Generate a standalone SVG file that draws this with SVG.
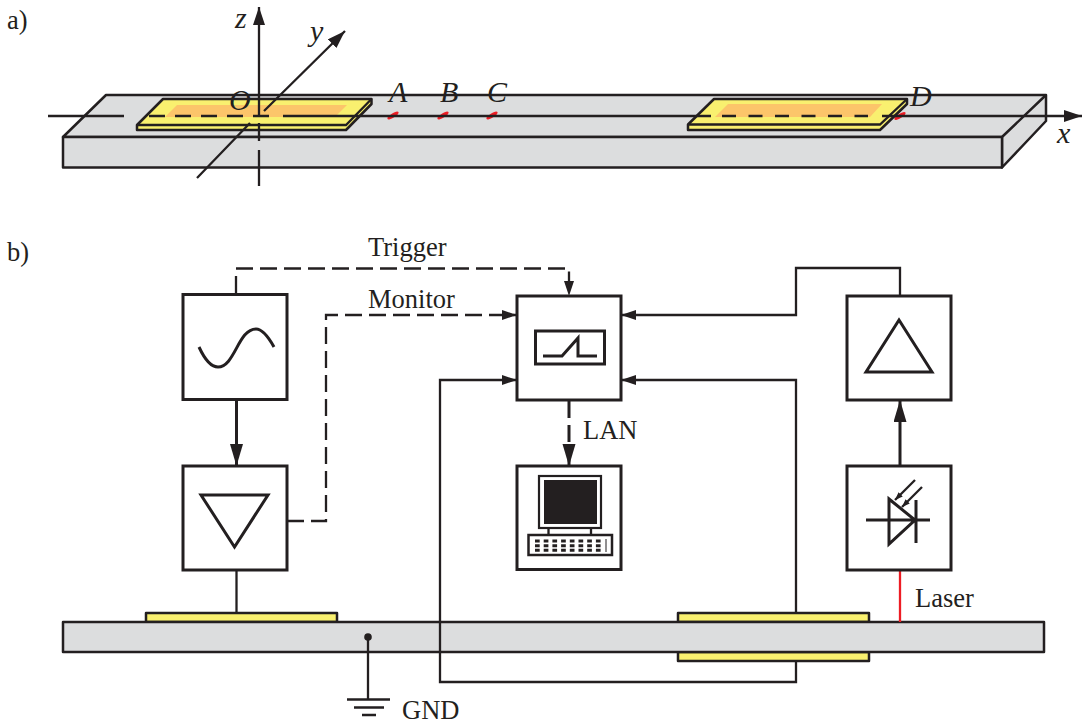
<svg xmlns="http://www.w3.org/2000/svg" width="1085" height="724" viewBox="0 0 1085 724">
<style>
.s{fill:none;stroke:#231f20;stroke-width:2.300}
.box{fill:#fff;stroke:#231f20;stroke-width:3}
.ic{fill:none;stroke:#231f20;stroke-width:3}
.bar{fill:#dcddde;stroke:#231f20;stroke-width:2.500;stroke-linejoin:round}
.el{fill:#f9f06f;stroke:#231f20;stroke-width:2.500;stroke-linejoin:round}
.or{fill:#fcc56a}
.d{stroke-dasharray:17 7}
.t{font-family:"Liberation Serif","Times New Roman",serif;font-size:26.5px;fill:#231f20}
.i{font-style:italic;font-size:30px}
.r{fill:#ed1c24}
</style>
<defs>
<marker id="ah" markerUnits="userSpaceOnUse" markerWidth="16" markerHeight="11" refX="15" refY="5" orient="auto"><path d="M0 0L15 5L0 10z" fill="#231f20"/></marker>
<marker id="al" markerUnits="userSpaceOnUse" markerWidth="23" markerHeight="14" refX="22" refY="6.5" orient="auto"><path d="M0 0L22 6.5L0 13z" fill="#231f20"/></marker>
<marker id="ax" markerUnits="userSpaceOnUse" markerWidth="19" markerHeight="13" refX="18" refY="6" orient="auto"><path d="M0 0L18 6L0 12z" fill="#231f20"/></marker>
<marker id="as" markerUnits="userSpaceOnUse" markerWidth="9" markerHeight="7" refX="8" refY="3" orient="auto"><path d="M0 0L8 3L0 6z" fill="#231f20"/></marker>
</defs>

<g id="panel-a-bar">
<path class="bar" d="M63 137L106 95H1046V121L1002 167.500V137z"/>
<path class="bar" d="M1002 137L1046 95M63 137H1002V167.500H63z"/>
</g>
<g id="panel-a-points">
<ellipse class="r" cx="393" cy="115.500" rx="6.500" ry="2.200" transform="rotate(-32 393 115.500)"/>
<ellipse class="r" cx="443" cy="115.500" rx="6.500" ry="2.200" transform="rotate(-32 443 115.500)"/>
<ellipse class="r" cx="492" cy="115.500" rx="6.500" ry="2.200" transform="rotate(-32 492 115.500)"/>
<ellipse class="r" cx="900" cy="116" rx="6.500" ry="2.200" transform="rotate(-32 900 116)"/>
</g>
<g id="electrode-a1">
<path class="el" d="M137 125L163 99H371.500V104L346 130H137z"/>
<path class="s" d="M137 125H346L371.500 99"/>
<path class="or" d="M177 105H347L335 117H165z"/>
</g>
<g id="electrode-a2">
<path class="el" d="M688 124.500L714 99H907V104L880 130H688z"/>
<path class="s" d="M688 124.500H880L907 99"/>
<path class="or" d="M728 104H882L870 117H715z"/>
</g>
<g id="connectors-a">
<path class="s" d="M48 116H124M283 116H711M882 116H1082" marker-end="url(#ax)"/>
<path class="s" d="M149 116H272" stroke-dasharray="16 10"/>
<path class="s" d="M722 116H868" stroke-dasharray="14 12.500"/>
<path class="s" d="M259 186V150M259 141V123M259 116V7" marker-end="url(#ax)"/>
<path class="s" d="M197 178L250 123M264 111L345 31" marker-end="url(#ax)"/>
</g>
<g id="labels-a">
<text class="t" x="7" y="29">a)</text>
<text class="t i" x="235" y="28">z</text>
<text class="t i" x="310" y="41">y</text>
<text class="t i" x="229" y="110">O</text>
<text class="t i" x="389" y="102">A</text>
<text class="t i" x="440" y="102">B</text>
<text class="t i" x="487" y="102">C</text>
<text class="t i" x="910" y="106">D</text>
<text class="t i" x="1057" y="143">x</text>
</g>

<g id="panel-b-electrodes">
<rect class="el" x="146" y="613" width="191" height="9"/>
<rect class="el" x="678" y="613" width="191" height="9"/>
<rect class="el" x="678" y="652" width="191" height="9"/>
</g>
<g id="panel-b-bar">
<rect class="bar" x="63" y="622" width="981" height="30"/>
</g>

<g id="connectors">
<path class="s" d="M236 294V276"/>
<path class="s d" d="M236 268.500H569V296" marker-end="url(#ah)"/>
<path class="s d" d="M287 521H326V315H517" marker-end="url(#ah)"/>
<path class="s" stroke-width="3" style="stroke-width:3" d="M236.500 399V466" marker-end="url(#al)"/>
<path class="s d" style="stroke-width:3" d="M569 401V466" marker-end="url(#al)"/>
<path class="s" style="stroke-width:3" d="M900 466V400" marker-end="url(#al)"/>
<path class="s" d="M900 296V268H796V315H621" marker-end="url(#ah)"/>
<path class="s" d="M796 613V380H621" marker-end="url(#ah)"/>
<path class="s" d="M796 661V682H440V380H517" marker-end="url(#ah)"/>
<path class="s" d="M236.500 570V613"/>
<path class="s" style="stroke:#ed1c24" d="M900 570V622"/>
<path class="s" d="M368 637V699"/>
</g>

<g id="generator">
<rect class="box" x="183" y="294.500" width="104" height="105"/>
<path class="ic" d="M199 347C205 360 211 367 218 367C235 367 238 329 256 329C263 329 269 338 274 347"/>
</g>
<g id="inverter">
<rect class="box" x="183" y="466" width="104" height="104"/>
<path class="ic" d="M201 495H268L234.500 547z"/>
</g>
<g id="oscilloscope">
<rect class="box" x="517" y="296" width="104" height="104"/>
<rect class="ic" x="535.500" y="331" width="69" height="33"/>
<path class="ic" d="M543 356H562L578 338V356H597"/>
</g>
<g id="computer">
<rect class="box" x="517" y="466" width="104" height="103.500"/>
<rect x="539" y="476" width="62" height="52" fill="#fff" stroke="#231f20" stroke-width="2.200"/>
<rect x="544" y="480" width="53" height="44" fill="#231f20"/>
<path class="s" d="M548.500 528V535M591 528V535"/>
<rect x="528.500" y="535" width="83.500" height="20" fill="#fff" stroke="#231f20" stroke-width="2.500"/>
<path fill="none" stroke="#231f20" stroke-width="3" stroke-dasharray="4.700 4" d="M535 541H603M535 545.700H603M535 550.200H603"/>
<path fill="none" stroke="#231f20" stroke-width="1" d="M606 539V552"/>
</g>
<g id="amplifier">
<rect class="box" x="847" y="296" width="104" height="104"/>
<path class="ic" d="M899 320L866 372H932z"/>
</g>
<g id="photodiode">
<rect class="box" x="847" y="466" width="104" height="104"/>
<path class="ic" d="M889 499V544L915 520zM866 520H930M916 500V543"/>
<path class="s" d="M915 480L895 500" marker-end="url(#as)"/>
<path class="s" d="M922 487L902 507" marker-end="url(#as)"/>
</g>
<g id="ground">
<circle cx="368" cy="637" r="3.800" fill="#231f20"/>
<path class="s" d="M347 699.500H390M354 707.500H384M362 715H376"/>
</g>
<g id="labels-b">
<text class="t" x="7" y="261">b)</text>
<text class="t" x="368" y="256">Trigger</text>
<text class="t" x="368" y="308">Monitor</text>
<text class="t" x="583" y="439">LAN</text>
<text class="t" x="915" y="607">Laser</text>
<text class="t" x="402" y="719">GND</text>
</g>
</svg>
